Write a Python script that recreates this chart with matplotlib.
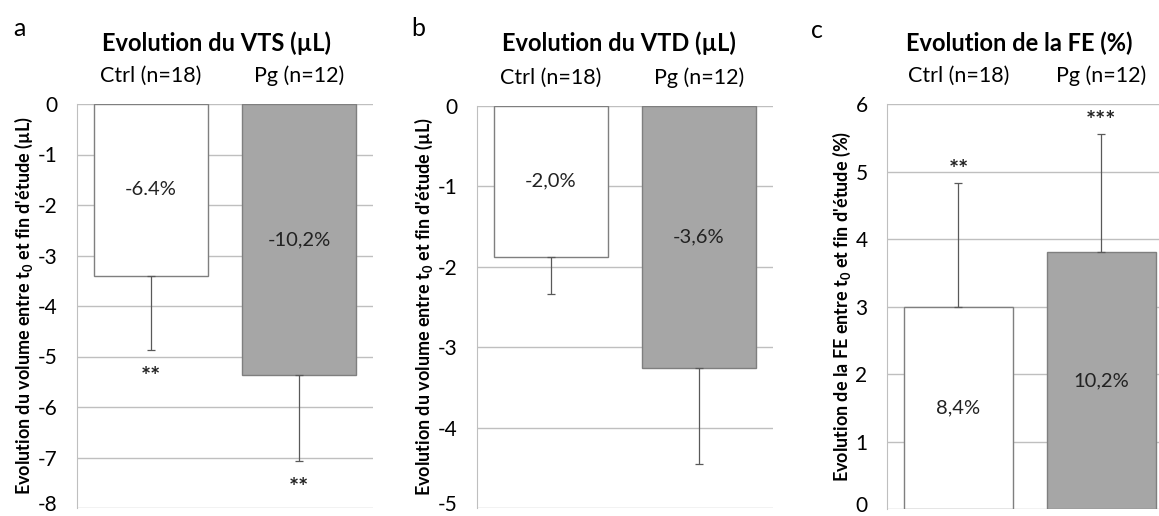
import matplotlib
matplotlib.use('Agg')
import matplotlib.pyplot as plt
import matplotlib.transforms as mtransforms

plt.rcParams['font.family'] = ['Lato', 'DejaVu Sans']
plt.rcParams['mathtext.fontset'] = 'custom'
plt.rcParams['mathtext.rm'] = 'Lato:bold'
plt.rcParams['mathtext.default'] = 'rm'
plt.rcParams['axes.unicode_minus'] = False

groups = ['Ctrl (n=18)', 'Pg (n=12)']
colors = ['white', '#a6a6a6']

vts_mean = [-3.40, -5.37]
vts_err = [1.47, 1.70]
vts_pct = ['-6.4%', '-10,2%']
vts_stars = ['**', '**']

vtd_mean = [-1.875, -3.26]
vtd_err = [0.47, 1.19]
vtd_pct = ['-2,0%', '-3,6%']
vtd_stars = ['', '']

fe_mean = [3.00, 3.81]
fe_err = [1.83, 1.75]
fe_pct = ['8,4%', '10,2%']
fe_stars = ['**', '***']

W, H = 1159, 516
fig = plt.figure(figsize=(W / 100, H / 100), dpi=100)


def px_axes(left, right, top, bottom):
    return fig.add_axes([left / W, (H - bottom) / H, (right - left) / W, (bottom - top) / H])


def draw_panel(ax, means, errs, pct, stars, ylim, yticks, xmax, width, ylabel):
    x = range(len(means))
    lower = [e if m < 0 else 0 for m, e in zip(means, errs)]
    upper = [e if m >= 0 else 0 for m, e in zip(means, errs)]
    ax.bar(x, means, width=width, color=colors, edgecolor='#7f7f7f', linewidth=1.0, zorder=3)
    ax.errorbar(x, means, yerr=[lower, upper], fmt='none', ecolor='#595959',
                elinewidth=0.9, capsize=3, capthick=0.9, zorder=4)
    for i, m in enumerate(means):
        ax.text(i, m / 2, pct[i], ha='center', va='center', fontsize=14.5, color='#222222', zorder=5)
        if stars[i]:
            end = m - errs[i] if m < 0 else m + errs[i]
            off = -20 if m < 0 else 9
            ax.annotate(stars[i], (i, end), xytext=(0, off), textcoords='offset points',
                        ha='center', va='center', fontsize=17, fontweight='bold', color='#222222')
    ax.set_ylim(*ylim)
    ax.set_yticks(yticks)
    ax.set_xlim(-0.5, xmax)
    ax.set_xticks(list(x))
    ax.set_xticklabels(groups, fontsize=15.5)
    ax.xaxis.set_ticks_position('top')
    ax.tick_params(axis='x', length=0, pad=13)
    ax.tick_params(axis='y', length=0, pad=14, labelsize=15)
    # lowest label sits right on the picture edge, keep it inside
    lab = ax.yaxis.get_major_ticks()[0].label1
    lab.set_va('baseline')
    lab.set_transform(lab.get_transform() + mtransforms.Affine2D().translate(0, -3))
    ax.grid(axis='y', color='#bfbfbf', linewidth=1.0, zorder=0)
    for s in ['top', 'right', 'bottom']:
        ax.spines[s].set_visible(False)
    ax.spines['left'].set_color('#bfbfbf')
    ax.set_ylabel(ylabel, fontsize=13, fontweight='bold', labelpad=2)
    ax.set_axisbelow(True)


ax_a = px_axes(77, 373, 104, 508)
draw_panel(ax_a, vts_mean, vts_err, vts_pct, vts_stars, (-8, 0), range(-8, 1), 1.5, 0.77,
           "Evolution du volume entre t$_0$ et fin d'étude (µL)")
ax_b = px_axes(477, 773, 105.7, 508)
draw_panel(ax_b, vtd_mean, vtd_err, vtd_pct, vtd_stars, (-5, 0), range(-5, 1), 1.5, 0.77,
           "Evolution du volume entre t$_0$ et fin d'étude (µL)")
ax_c = px_axes(887, 1159, 104.3, 509)
draw_panel(ax_c, fe_mean, fe_err, fe_pct, fe_stars, (0, 6), range(0, 7), 1.404, 0.762,
           "Evolution de la FE entre t$_0$ et fin d'étude (%)")

titles = ['Evolution du VTS (µL)', 'Evolution du VTD (µL)', 'Evolution de la FE (%)']
title_x = [217, 619, 1019]
for t, tx in zip(titles, title_x):
    fig.text(tx / W, 1 - 43 / H, t, ha='center', va='center', fontsize=17, fontweight='bold')

for letter, lx, ly in zip(['a', 'b', 'c'], [19, 418, 817], [29, 28, 31]):
    fig.text(lx / W, 1 - ly / H, letter, ha='center', va='center', fontsize=18)

fig.savefig('out.png', dpi=100)
